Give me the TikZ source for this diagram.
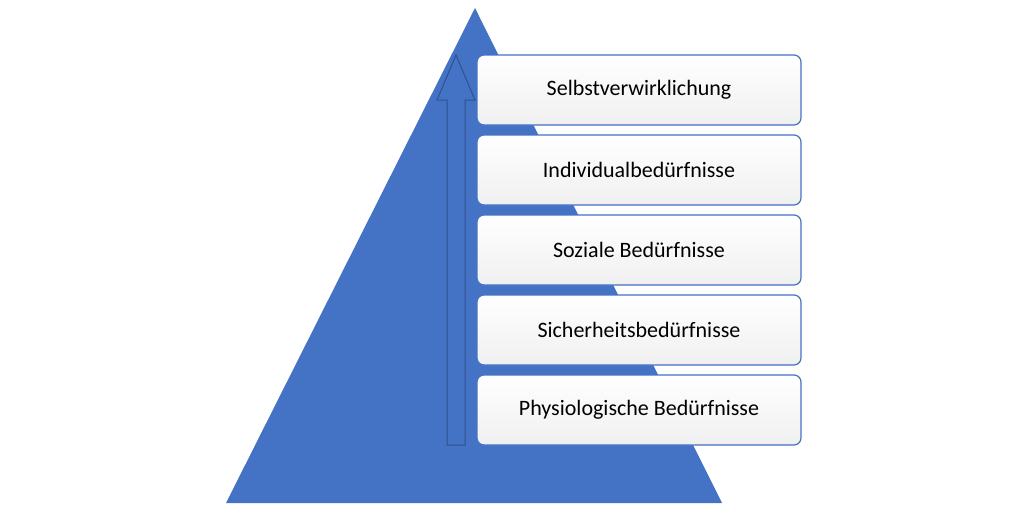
\documentclass[tikz,border=0pt]{standalone}
\usepackage{fontspec}
\setmainfont{Carlito}
\definecolor{pyr}{HTML}{4472C4}
\definecolor{edge}{HTML}{2F528F}
\begin{document}
\begin{tikzpicture}[x=1pt,y=-1pt,
  lvl/.style={draw=pyr,line width=1.2pt,rounded corners=7pt,top color=white,bottom color=black!6,minimum width=324pt,minimum height=70pt,font=\fontsize{22}{26}\selectfont,inner sep=0pt}]
\useasboundingbox (0,0) rectangle (1024,509);
\fill[pyr] (475,8) -- (722,503) -- (226,503) -- cycle;
\coordinate (abot) at (456,445);
\coordinate (atop) at (456,55);
\draw[edge,fill=pyr,line width=1pt] (447,445) -- (447,100) -- (437,100) -- (atop) -- (475,100) -- (465,100) -- (465,445) -- cycle;
\node[lvl] (l5) at (639,90) {Selbstverwirklichung};
\node[lvl] (l4) at (639,170) {Individualbedürfnisse};
\node[lvl] (l3) at (639,250) {Soziale Bedürfnisse};
\node[lvl] (l2) at (639,330) {Sicherheitsbedürfnisse};
\node[lvl] (l1) at (639,410) {Physiologische Bedürfnisse};
\end{tikzpicture}
\end{document}
